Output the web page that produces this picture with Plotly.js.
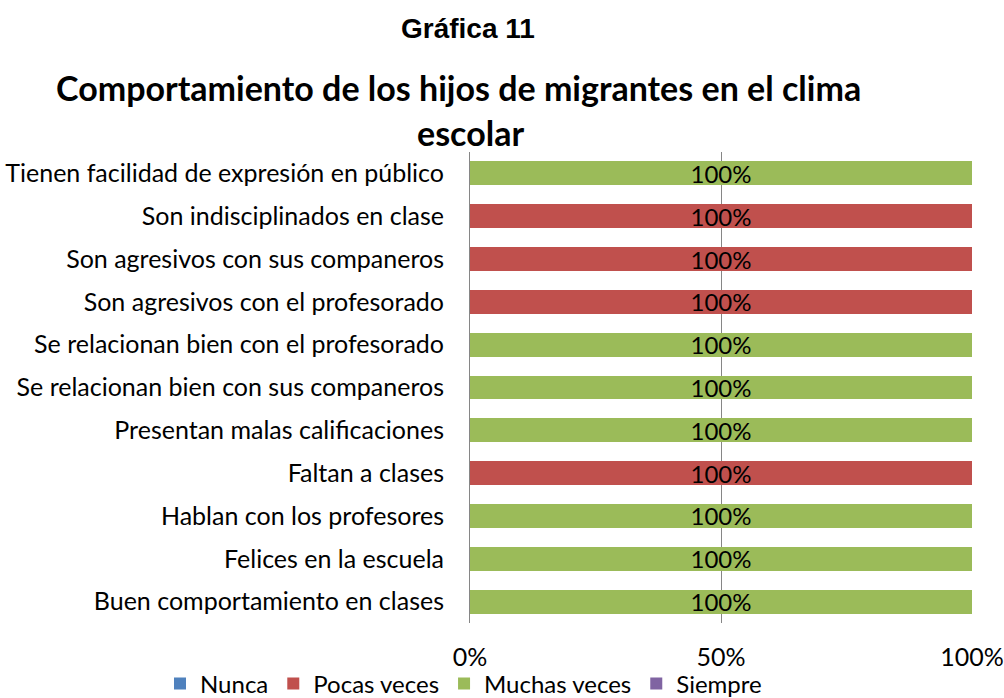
<!DOCTYPE html>
<html>
<head>
<meta charset="utf-8">
<script src="https://cdn.plot.ly/plotly-3.0.1.min.js"></script>
<style>
html,body{margin:0;padding:0;background:#fff;}
#chart{width:1004px;height:698px;}
</style>
</head>
<body>
<div id="chart"></div>
<script>
// Categories, top to bottom as in the picture
const categories = [
  "Tienen facilidad de expresión en público",
  "Son indisciplinados en clase",
  "Son agresivos con sus companeros",
  "Son agresivos con el profesorado",
  "Se relacionan bien con el profesorado",
  "Se relacionan bien con sus companeros",
  "Presentan malas calificaciones",
  "Faltan a clases",
  "Hablan con los profesores",
  "Felices en la escuela",
  "Buen comportamiento en clases"
];
const seriesNames = ["Nunca", "Pocas veces", "Muchas veces", "Siempre"];
const nunca       = [0, 0, 0, 0, 0, 0, 0, 0, 0, 0, 0];
const pocasVeces  = [0, 100, 100, 100, 0, 0, 0, 100, 0, 0, 0];
const muchasVeces = [100, 0, 0, 0, 100, 100, 100, 0, 100, 100, 100];
const siempre     = [0, 0, 0, 0, 0, 0, 0, 0, 0, 0, 0];
const xTickVals = [0, 50, 100];
const xTickText = ["0%", "50%", "100%"];

const colors = ["#4F81BD", "#C0504D", "#9BBB59", "#8064A2"];
const seriesValues = [nunca, pocasVeces, muchasVeces, siempre];
const FONT = "Lato, 'Open Sans', sans-serif";

const traces = seriesNames.map((name, i) => ({
  type: "bar",
  orientation: "h",
  name: name,
  y: categories,
  x: seriesValues[i],
  marker: {color: colors[i]},
  text: seriesValues[i].map(v => v > 0 ? v + "%" : ""),
  textposition: "inside",
  insidetextanchor: "middle",
  constraintext: "none",
  textfont: {family: FONT, size: 24, color: "#000"},
  insidetextfont: {family: FONT, size: 24, color: "#000"},
  hoverinfo: "none"
}));

const layout = {
  width: 1004,
  height: 698,
  paper_bgcolor: "#fff",
  plot_bgcolor: "#fff",
  barmode: "stack",
  bargap: 0.44,
  margin: {l: 470, r: 32, t: 152, b: 75, autoexpand: false},
  font: {family: FONT, size: 24, color: "#000"},
  showlegend: true,
  legend: {
    orientation: "h",
    x: (160 - 470) / 502, xanchor: "left",
    y: (623 - 684) / 471, yanchor: "middle",
    font: {family: FONT, size: 24, color: "#000"},
    traceorder: "normal",
    itemwidth: 30,
    bgcolor: "rgba(0,0,0,0)"
  },
  xaxis: {
    range: [0, 100],
    tickvals: xTickVals,
    ticktext: xTickText,
    showgrid: true,
    gridcolor: "#868686",
    gridwidth: 1,
    zeroline: false,
    showline: false,
    ticks: "",
    ticklabelstandoff: 17,
    tickfont: {family: FONT, size: 25, color: "#000"},
    fixedrange: true
  },
  yaxis: {
    type: "category",
    autorange: "reversed",
    showgrid: false,
    zeroline: false,
    showline: true,
    linecolor: "#868686",
    linewidth: 1,
    ticks: "",
    ticklabelstandoff: 20,
    tickfont: {family: FONT, size: 25, color: "#000"},
    fixedrange: true
  },
  annotations: [
    {
      text: "<b>Gráfica 11</b>",
      xref: "paper", yref: "paper",
      x: (468 - 470) / 502, y: (623 - 28) / 471,
      xanchor: "center", yanchor: "middle",
      showarrow: false,
      font: {family: "'Liberation Sans', Arial, sans-serif", size: 28, color: "#000"}
    },
    {
      text: "<b>Comportamiento de los hijos de migrantes en el clima</b>",
      xref: "paper", yref: "paper",
      x: (458 - 470) / 502, y: (623 - 87) / 471,
      xanchor: "center", yanchor: "middle",
      showarrow: false,
      font: {family: FONT, size: 34, color: "#000"}
    },
    {
      text: "<b>escolar</b>",
      xref: "paper", yref: "paper",
      x: (470 - 470) / 502, y: (623 - 132) / 471,
      xanchor: "center", yanchor: "middle",
      showarrow: false,
      font: {family: FONT, size: 34, color: "#000"}
    }
  ]
};

Plotly.newPlot("chart", traces, layout, {displayModeBar: false, staticPlot: true});
</script>
</body>
</html>
